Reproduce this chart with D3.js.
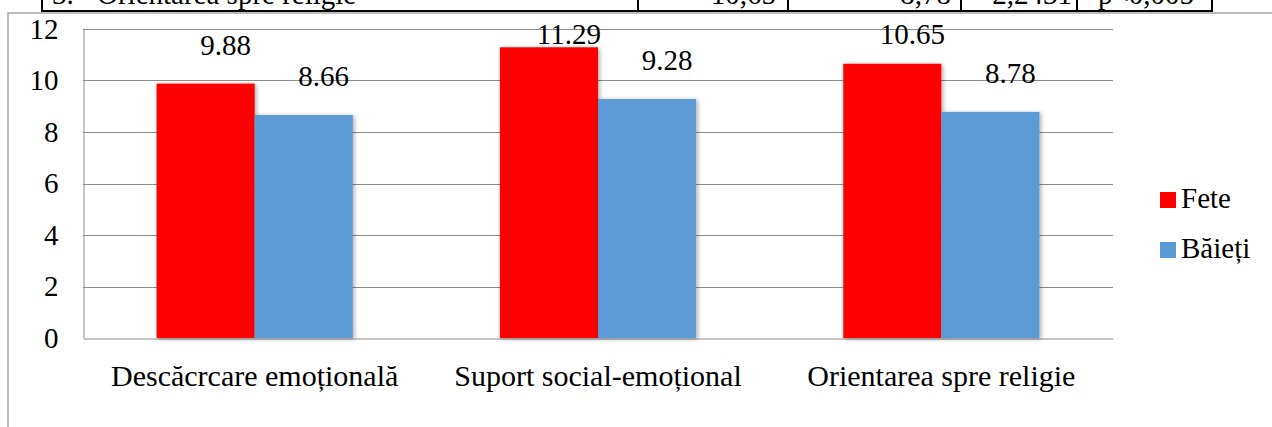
<!DOCTYPE html>
<html>
<head>
<meta charset="utf-8">
<script src="https://cdn.jsdelivr.net/npm/d3@7"></script>
</head>
<body style="margin:0">
<svg id="chart" width="1272" height="427"></svg>
<script>
// Scale means by gender for each coping strategy
const categories = ["Descăcrcare emoțională", "Suport social-emoțional", "Orientarea spre religie"];
const seriesNames = ["Fete", "Băieți"];
const fete = [9.88, 11.29, 10.65];
const baieti = [8.66, 9.28, 8.78];
const yTicks = [0, 2, 4, 6, 8, 10, 12];
const colors = ["#FF0000", "#5B9BD5"];

// Last row of the results table above the chart
const tableRow = ["3.", "Orientarea spre religie", "10,65", "8,78", "2,2431", "p<0,005"];

const FONT = "'Liberation Serif', 'Times New Roman', Tinos";
const FS = 29;

const svg = d3.select("#chart");
const W = 1272, H = 427;

const defs = svg.append("defs");
const f = defs.append("filter").attr("id", "barShadow")
  .attr("x", "-10%").attr("y", "-10%").attr("width", "130%").attr("height", "130%");
f.append("feDropShadow").attr("dx", 1.5).attr("dy", 1).attr("stdDeviation", 2)
  .attr("flood-color", "#000").attr("flood-opacity", 0.35);

// text helper: serif face at the chart's size
const serif = (sel, size = FS) => sel.attr("font-size", size).style("font-family", FONT).attr("fill", "#000");

// --- table strip at the top ---
const tbl = svg.append("g");
const colEdges = [42, 638, 788, 961, 1077, 1212];
tbl.append("line").attr("x1", 41).attr("x2", 1213).attr("y1", 11).attr("y2", 11)
  .attr("stroke", "#000").attr("stroke-width", 2);
colEdges.forEach(x => tbl.append("line").attr("x1", x).attr("x2", x)
  .attr("y1", -2).attr("y2", 12).attr("stroke", "#000").attr("stroke-width", 2));
const tx = [{x: 52, a: "start"}, {x: 97, a: "start"}, {x: 776, a: "end"}, {x: 951, a: "end"}, {x: 1072, a: "end"}, {x: 1098, a: "start"}];
tableRow.forEach((t, i) => tbl.append("text").attr("x", tx[i].x).attr("y", 4)
  .attr("text-anchor", tx[i].a).call(serif).text(t));

// --- chart frame ---
svg.append("path").attr("d", `M8,${H + 2} V13 H${W + 2}`)
  .attr("fill", "none").attr("stroke", "#a6a6a6").attr("stroke-width", 1.5);

// --- plot ---
const plot = {left: 83, right: 1113, top: 29, bottom: 338};

const x0 = d3.scaleBand().domain(categories).range([plot.left, plot.right]).paddingInner(0).paddingOuter(0);
const x1 = d3.scaleBand().domain(seriesNames).range([0, x0.bandwidth()]).paddingInner(0).paddingOuter(0.75);
const y = d3.scaleLinear().domain([0, 12]).range([plot.bottom, plot.top]);

// gridlines
svg.append("g").selectAll("line").data(yTicks.filter(d => d > 0)).join("line")
  .attr("x1", plot.left).attr("x2", plot.right)
  .attr("y1", d => Math.round(y(d)) + 0.5).attr("y2", d => Math.round(y(d)) + 0.5)
  .attr("stroke", "#8c8c8c").attr("stroke-width", 1);

// y axis
const yAxis = svg.append("g").attr("transform", `translate(${plot.left + 0.5},0)`)
  .call(d3.axisLeft(y).tickValues(yTicks).tickSize(0).tickPadding(25));
yAxis.attr("font-family", null).attr("font-size", null);
yAxis.select(".domain").attr("stroke", "#8c8c8c");
yAxis.selectAll("text").attr("dy", "0.32em").call(serif);

// x axis
const xAxis = svg.append("g").attr("transform", `translate(0,${plot.bottom + 0.5})`)
  .call(d3.axisBottom(x0).tickSize(0).tickPadding(26));
xAxis.attr("font-family", null).attr("font-size", null);
xAxis.select(".domain").attr("stroke", "#8c8c8c");
xAxis.selectAll("text").call(serif, 30);

// bars
const rows = categories.map((c, i) => ({cat: c, vals: [fete[i], baieti[i]]}));
const groups = svg.append("g").selectAll("g").data(rows).join("g")
  .attr("transform", d => `translate(${x0(d.cat)},0)`);

groups.selectAll("rect").data(d => d.vals.map((v, j) => ({name: seriesNames[j], v, j}))).join("rect")
  .attr("x", d => x1(d.name))
  .attr("y", d => y(d.v))
  .attr("width", x1.bandwidth())
  .attr("height", d => y(0) - y(d.v))
  .attr("fill", d => colors[d.j])
  .attr("filter", "url(#barShadow)");

// value labels, set above each bar and kept below the top of the plot
groups.selectAll("text.val").data(d => d.vals.map((v, j) => ({name: seriesNames[j], v, j}))).join("text")
  .attr("class", "val")
  .attr("x", d => x1(d.name) + x1.bandwidth() / 2 + 20)
  .attr("y", d => Math.max(plot.top + 15, y(d.v) - 29))
  .attr("text-anchor", "middle").call(serif)
  .text(d => d.v.toFixed(2));

// legend
const leg = svg.append("g").attr("transform", "translate(1160,192)");
seriesNames.forEach((n, i) => {
  const g = leg.append("g").attr("transform", `translate(0,${i * 50})`);
  g.append("rect").attr("width", 16).attr("height", 16).attr("fill", colors[i]);
  g.append("text").attr("x", 21).attr("y", 16).call(serif).text(n);
});
</script>
</body>
</html>
